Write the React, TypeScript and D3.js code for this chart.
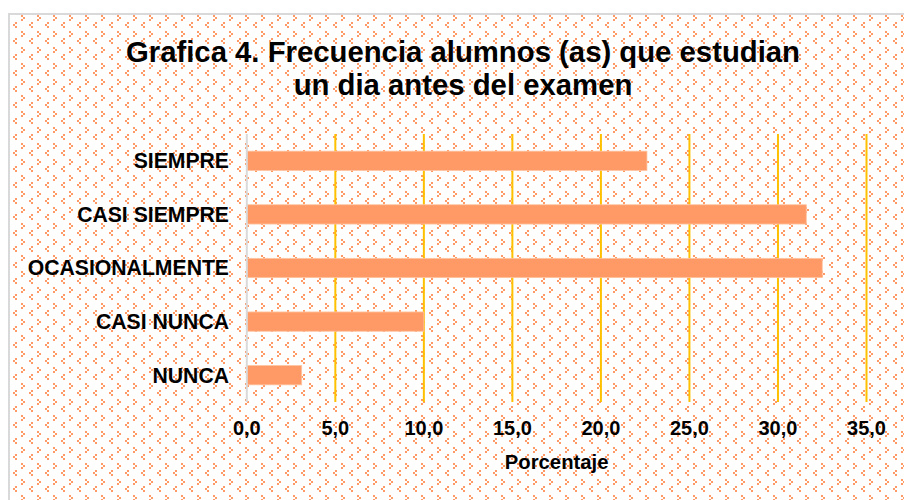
import React from "react";
import * as d3 from "d3";

const categories = ["SIEMPRE", "CASI SIEMPRE", "OCASIONALMENTE", "CASI NUNCA", "NUNCA"];
const values = [22.6, 31.6, 32.5, 10.0, 3.1];
const tickValues = [0, 5, 10, 15, 20, 25, 30, 35];
const tickLabels = ["0,0", "5,0", "10,0", "15,0", "20,0", "25,0", "30,0", "35,0"];
const titleLines = ["Grafica 4. Frecuencia alumnos (as) que estudian", "un dia antes del examen"];
const axisTitle = "Porcentaje";

const W = 904;
const H = 500;
const FONT = "'Liberation Sans', Arial, sans-serif";
const ORANGE = "#FF9966";

export default function App() {
  const x = d3.scaleLinear().domain([0, 35]).range([246.8, 866.5]);
  const y = d3
    .scaleBand<string>()
    .domain(categories)
    .range([134, 402])
    .paddingInner(0.64)
    .paddingOuter(0.32);

  const dots = [
    [8, 0], [10, 2], [8, 4],
    [2, 7], [0, 9], [2, 11],
  ];

  return (
    <svg
      width={W}
      height={H}
      style={{ position: "absolute", left: 0, top: 0 }}
      xmlns="http://www.w3.org/2000/svg"
    >
      <defs>
        <pattern id="dots" patternUnits="userSpaceOnUse" x={13} y={15} width={16} height={16}>
          {dots.map(([dx, dy], i) => (
            <rect key={i} x={dx} y={dy} width={2} height={2} fill={ORANGE} shapeRendering="crispEdges" />
          ))}
        </pattern>
      </defs>
      <rect x={0} y={0} width={W} height={H} fill="#fff" />
      <rect x={9} y={14} width={W + 20} height={H + 20} fill="#fff" stroke="#D9D9D9" strokeWidth={2} />
      <rect x={10} y={15} width={W} height={H} fill="url(#dots)" />

      {/* title */}
      {titleLines.map((t, i) => (
        <text
          key={i}
          x={463}
          y={62 + i * 33}
          textAnchor="middle"
          fontFamily={FONT}
          fontWeight="bold"
          fontSize={29.3}
          fill="#000"
        >
          {t}
        </text>
      ))}

      {/* gridlines */}
      {tickValues.slice(1).map((v) => (
        <line key={v} x1={x(v)} x2={x(v)} y1={134} y2={402} stroke="#FFC000" strokeWidth={2} />
      ))}

      {/* bars */}
      {categories.map((c, i) => (
        <rect
          key={c}
          x={x(0)}
          y={y(c)}
          width={x(values[i]) - x(0)}
          height={y.bandwidth()}
          fill={ORANGE}
          stroke="#FFC3A0"
          strokeWidth={0.8}
        />
      ))}

      {/* value axis line */}
      <line x1={x(0)} x2={x(0)} y1={134} y2={402} stroke="#D9D9D9" strokeWidth={2} />

      {/* category labels */}
      {categories.map((c) => (
        <text
          key={c}
          x={229}
          y={(y(c) as number) + y.bandwidth() / 2 + 7.4}
          textAnchor="end"
          fontFamily={FONT}
          fontWeight="bold"
          fontSize={21.2}
          fill="#000"
        >
          {c}
        </text>
      ))}

      {/* tick labels */}
      {tickValues.map((v, i) => (
        <text
          key={v}
          x={x(v)}
          y={435}
          textAnchor="middle"
          fontFamily={FONT}
          fontWeight="bold"
          fontSize={20}
          fill="#000"
        >
          {tickLabels[i]}
        </text>
      ))}

      <text
        x={(x(0) + x(35)) / 2}
        y={469}
        textAnchor="middle"
        fontFamily={FONT}
        fontWeight="bold"
        fontSize={20.3}
        fill="#000"
      >
        {axisTitle}
      </text>
    </svg>
  );
}
